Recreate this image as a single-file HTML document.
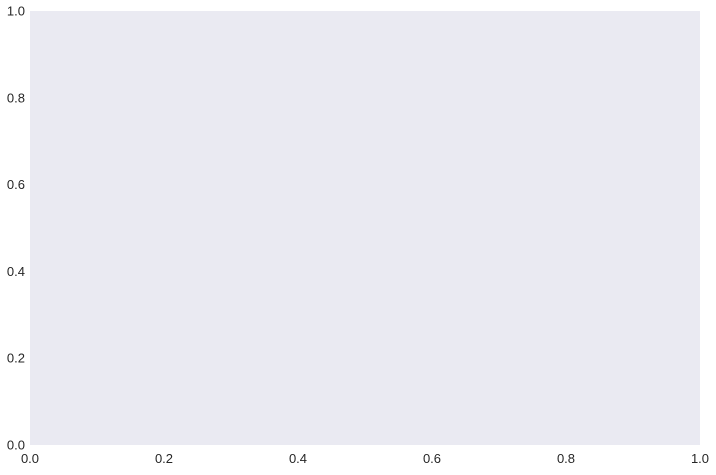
<!DOCTYPE html>
<html><head><meta charset="utf-8"><style>
body{margin:0;background:#fff;width:716px;height:470px;overflow:hidden;font-family:"Liberation Sans",sans-serif;}
svg text{font-family:"Liberation Sans",sans-serif;font-size:13px;fill:#262626;}
</style></head><body>
<svg id="chart" width="716" height="470">
<rect x="30" y="11" width="670" height="434" fill="#EAEAF2"/>
<g id="xt"></g>
<g id="yt"></g>
</svg>
<script>
const xTicks = [0.0, 0.2, 0.4, 0.6, 0.8, 1.0];
const yTicks = [0.0, 0.2, 0.4, 0.6, 0.8, 1.0];
const X0=30,X1=700,Y0=445,Y1=11;
function sx(v){return X0+(X1-X0)*v;}
function sy(v){return Y0-(Y0-Y1)*v;}
const ns="http://www.w3.org/2000/svg";
const xt=document.getElementById('xt'), yt=document.getElementById('yt');
xTicks.forEach(v=>{
  const t=document.createElementNS(ns,'text');
  t.setAttribute('x',sx(v));t.setAttribute('y',463);t.setAttribute('text-anchor','middle');
  t.textContent=v.toFixed(1);
  
  
  xt.appendChild(t);
});
yTicks.forEach(v=>{
  const t=document.createElementNS(ns,'text');
  t.setAttribute('x',25);t.setAttribute('y',sy(v)+4.5);t.setAttribute('text-anchor','end');
  t.textContent=v.toFixed(1);
  
  
  yt.appendChild(t);
});
</script>
</body></html>
